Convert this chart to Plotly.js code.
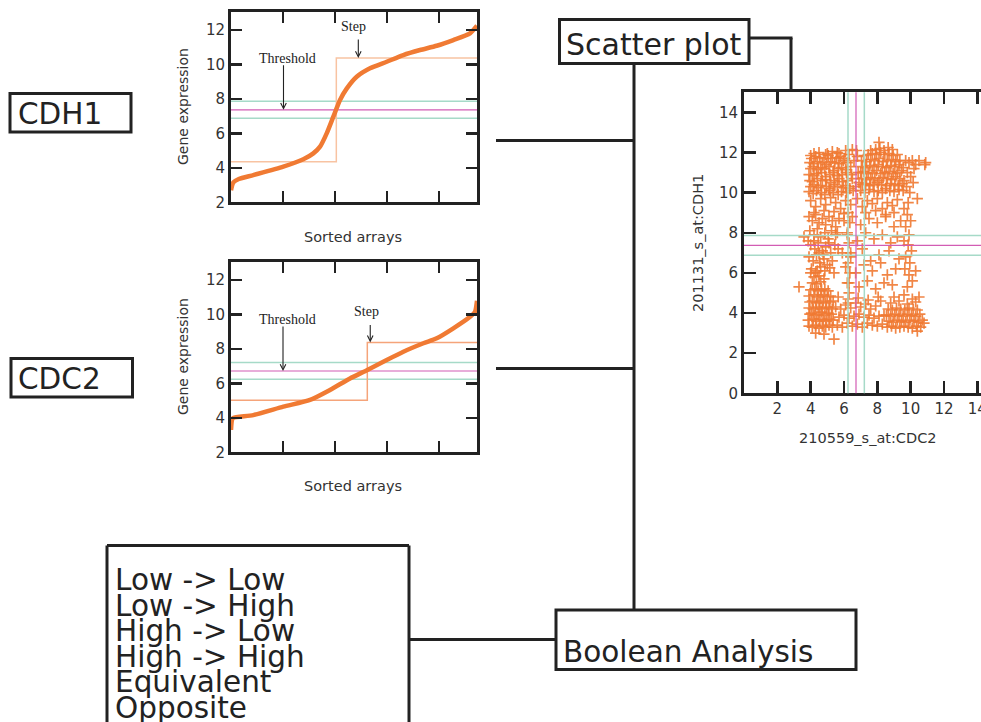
<!DOCTYPE html>
<html><head><meta charset="utf-8">
<script src="https://cdn.plot.ly/plotly-3.0.1.min.js"></script>
<style>html,body{margin:0;padding:0;background:#fff;} #chart{width:981px;height:722px;}</style>
</head><body><div id="chart"></div>
<script>
// ---------------- data ----------------
const arrayCount = 4730;
const cdh1SortedIndex  = [0, 45, 150, 429, 1006, 1391, 1583, 1712, 1840, 1968, 2096, 2224, 2417, 2673, 2994, 3314, 3635, 3955, 4275, 4596, 4730];
const cdh1SortedValues = [2.7, 3.15, 3.35, 3.58, 4.07, 4.5, 4.84, 5.23, 6.0, 6.97, 7.94, 8.6, 9.29, 9.78, 10.16, 10.55, 10.84, 11.09, 11.42, 11.81, 12.25];
const cdc2SortedIndex  = [0, 20, 45, 429, 1006, 1519, 1904, 2288, 2622, 2994, 3314, 3699, 3955, 4275, 4596, 4692, 4730];
const cdc2SortedValues = [3.3, 3.9, 4.0, 4.16, 4.65, 5.04, 5.62, 6.29, 6.78, 7.36, 7.84, 8.33, 8.62, 9.2, 9.87, 10.16, 10.8];
const cdh1Thresholds = [6.88, 7.37, 7.87];
const cdc2Thresholds = [6.24, 6.72, 7.22];
const stepIndex = [2025, 2621];
const stepLow   = [4.36, 5.02];
const stepHigh  = [10.37, 8.38];
const geneNames = ['CDH1', 'CDC2'];
const probeLabels = ['210559_s_at:CDC2', '201131_s_at:CDH1'];
const booleanRelations = ['Low -> Low', 'Low -> High', 'High -> Low', 'High -> High', 'Equivalent', 'Opposite'];
const sortedTicks = [2, 4, 6, 8, 10, 12];
const scatterXTicks = [2, 4, 6, 8, 10, 12, 14];
const scatterYTicks = [0, 2, 4, 6, 8, 10, 12, 14];

// scatter: CDC2 (x) vs CDH1 (y), grouped by region
const topLeftX = [3.9,4.15,4.35,4.65,4.85,5.15,5.35,5.65,5.85,6.15, 4.0,4.2,4.45,4.6,4.95,5.1,5.45,5.6,5.95,6.1, 3.95,4.1,4.4,4.7,4.9,5.2,5.4,5.7,5.9,6.2, 3.9,4.2,4.35,4.65,4.9,5.15,5.35,5.6,5.9,6.15, 4.0,4.15,4.45,4.6,4.85,5.1,5.4,5.65,5.85,6.1, 3.95,4.2,4.4,4.7,4.95,5.2,5.45,5.7,5.95,6.2, 4.05,4.3,4.55,4.8,5.05,5.3,5.55,5.8,6.05];
const topLeftY = [10.05,9.95,10.1,10.0,9.9,10.1,10.0,9.9,10.05,10.0, 10.3,10.4,10.25,10.35,10.3,10.2,10.4,10.3,10.25,10.35, 10.6,10.55,10.7,10.6,10.65,10.5,10.6,10.7,10.55,10.6, 10.9,10.85,10.95,11.0,10.8,10.9,11.0,10.85,10.9,11.0, 11.2,11.3,11.15,11.25,11.2,11.3,11.1,11.2,11.25,11.15, 11.5,11.45,11.55,11.5,11.4,11.55,11.5,11.45,11.6,11.5, 11.7,11.8,11.75,11.7,11.85,11.7,11.75,11.8,11.7];
const topRightX = [7.0,7.25,7.5,7.8,8.05,8.3,8.5,8.75,9.0,9.3,9.55, 7.1,7.3,7.55,7.75,8.0,8.25,8.55,8.8,9.05,9.25,9.5, 7.05,7.35,7.6,7.85,8.1,8.35,8.6,8.85,9.1,9.35,9.6, 7.0,7.2,7.45,7.7,7.95,8.2,8.45,8.7,8.95,9.2,9.45, 7.1,7.3,7.55,7.8,8.05,8.3,8.55,8.8,9.05,9.3,9.55, 7.05,7.35,7.6,7.85,8.1,8.35,8.6,8.85,9.1,9.35, 7.2,7.45,7.7,7.95,8.2,8.45,8.7,8.95,9.2, 7.6,7.9,8.15,8.4,8.65,8.9,8.1];
const topRightY = [10.1,10.0,10.15,10.05,10.1,10.0,10.2,10.1,10.05,10.15,10.1, 10.4,10.45,10.35,10.4,10.5,10.4,10.35,10.45,10.4,10.35,10.45, 10.7,10.65,10.75,10.7,10.6,10.75,10.7,10.65,10.8,10.7,10.6, 11.0,11.05,10.95,11.0,11.1,10.95,11.0,11.05,10.95,11.0,11.1, 11.3,11.25,11.35,11.3,11.4,11.3,11.25,11.35,11.3,11.4,11.25, 11.6,11.55,11.65,11.6,11.7,11.55,11.6,11.65,11.55,11.6, 11.85,11.9,11.95,11.9,12.0,11.9,11.95,11.85,11.9, 12.1,12.15,12.2,12.1,12.25,12.15,12.5];
const topMidX = [6.35,6.5,6.7,6.85,6.4,6.6,6.8,6.45,6.75,6.55,6.9,6.3, 9.7,9.9,10.1,10.3,9.8,10.0,10.2,10.5,9.75,9.95,10.15,10.4,9.85,10.9,10.85, 4.2,4.5,4.9,5.3,5.7,6.1,6.5,5.0,4.0,5.6];
const topMidY = [10.2,10.7,10.3,11.0,11.3,11.6,11.8,10.9,12.1,10.1,10.5,11.9, 11.6,11.5,11.6,11.4,11.0,10.8,11.2,11.6,10.3,10.0,10.5,9.7,9.5,11.5,11.4, 11.95,12.0,11.9,12.05,11.95,12.1,12.15,11.95,11.85,12.0];
const bandX = [4.0,4.3,4.6,4.9,5.2,5.5,5.8,6.1,6.4,6.8,7.1,7.4,7.7,8.0,8.3,8.6,8.9,9.2, 4.2,4.8,5.4,6.0,7.3,7.9,8.5,9.0];
const bandY = [9.6,9.3,9.7,9.4,9.75,9.5,9.2,9.6,9.4,9.7,9.3,9.6,9.45,9.7,9.2,9.5,9.35,9.65, 9.0,9.1,9.05,8.95,9.0,9.1,8.9,9.0];
const leftColX = [3.9,4.1,4.3,4.5,4.7,4.9,5.1,5.3,5.5,5.7, 3.95,4.2,4.4,4.6,4.85,5.05,5.25,5.5, 4.0,4.25,4.45,4.7,4.9,5.2,5.45,5.65, 3.9,4.15,4.35,4.55,4.8,5.0,5.3, 4.05,4.3,4.6,4.85,5.15,5.4, 3.85,4.2,4.5,4.75,5.1,5.6];
const leftColY = [8.8,8.6,8.9,8.5,8.7,8.4,8.8,8.6,8.3,8.7, 8.1,7.9,8.2,7.8,8.0,7.7,8.1,7.9, 7.4,7.2,7.5,7.1,7.3,7.0,7.4,7.2, 6.8,6.6,6.9,6.5,6.7,6.4,6.6, 6.2,6.0,6.3,6.1,6.25,6.0, 7.6,7.6,7.0,6.9,7.5,8.0];
const middleX = [6.0,6.5,7.0,7.5,8.0,8.5,9.0,9.4, 6.2,6.8,7.3,7.8,8.3,8.8,9.2, 5.9,6.4,7.1,7.6,8.1,8.7,9.3, 6.1,6.7,7.2,7.7,8.2,8.6,9.1, 6.3,6.9,7.4,7.9,8.4,8.9, 6.25,6.35,6.2,6.3,6.4,6.25,6.35,6.2,6.3,6.25];
const middleY = [8.6,8.8,8.4,8.7,8.5,8.8,8.3,8.6, 7.9,7.6,8.0,7.7,7.9,7.5,7.8, 7.0,6.8,7.2,6.6,6.9,7.1,6.7, 6.3,6.0,6.4,6.1,6.5,5.9,6.2, 5.5,5.3,5.6,5.2,5.5,5.4, 9.0,8.5,8.0,7.5,7.0,6.5,6.0,5.5,5.0,4.5];
const rightColX = [9.6,9.8,10.0,9.7,9.9,9.6,9.85,10.05,9.7,9.95,9.65,9.9,10.3,10.1,9.8];
const rightColY = [9.2,8.9,8.6,8.3,7.9,7.6,7.4,7.1,6.8,6.5,6.2,5.9,6.1,5.6,5.3];
const bottomLeftX = [3.9,4.1,4.3,4.5,4.7,4.9,5.1,5.3, 3.85,4.15,4.35,4.55,4.75,4.95,5.15,5.35, 3.95,4.05,4.25,4.45,4.65,4.85,5.05,5.25, 3.9,4.15,4.3,4.55,4.7,4.95,5.1,5.3, 3.95,4.1,4.35,4.5,4.75,4.9,5.15,5.35, 3.9,4.2,4.4,4.6,4.8,5.0,5.2, 4.0,4.25,4.45,4.65,4.85,5.05, 4.1,4.35,4.6,4.2,4.5,4.8,4.0,4.4, 4.3,4.8,5.4,3.3,3.6];
const bottomLeftY = [3.35,3.3,3.4,3.25,3.35,3.3,3.4,3.3, 3.65,3.7,3.6,3.7,3.65,3.6,3.7,3.65, 3.95,4.0,3.9,3.95,4.05,3.9,4.0,3.95, 4.25,4.2,4.3,4.25,4.2,4.3,4.25,4.2, 4.55,4.6,4.5,4.55,4.6,4.5,4.55,4.6, 4.85,4.9,4.8,4.85,4.9,4.8,4.85, 5.15,5.2,5.1,5.15,5.2,5.1, 5.5,5.45,5.55,5.8,5.85,5.7,6.0,6.1, 3.0,2.95,2.7,5.3,7.8];
const bottomMidX = [5.6,5.9,6.2,6.5,6.8,7.1,7.4,7.7,8.0,8.3, 5.7,6.0,6.3,6.6,6.9,7.2,7.5,7.8,8.1,8.4, 5.5,5.8,6.1,6.4,6.7,7.0,7.3,7.6,7.9,8.2, 5.65,6.25,6.85,7.45,8.05];
const bottomMidY = [3.4,3.3,3.5,3.35,3.45,3.3,3.5,3.4,3.35,3.45, 3.8,3.9,3.75,3.85,3.95,3.8,3.9,3.75,3.85,3.9, 4.3,4.2,4.4,4.25,4.5,4.3,4.45,4.2,4.35,4.6, 4.8,4.7,4.75,4.65,4.8];
const bottomRightX = [8.6,8.85,9.1,9.35,9.6,9.85,10.1,10.35,10.6, 8.7,8.95,9.2,9.45,9.7,9.95,10.2,10.45,10.7, 8.55,8.8,9.05,9.3,9.55,9.8,10.05,10.3,10.55, 8.65,8.9,9.15,9.4,9.65,9.9,10.15,10.4, 8.8,9.3,9.8,10.3,9.0,9.6,10.1,10.5,10.8,10.4];
const bottomRightY = [3.3,3.35,3.25,3.3,3.35,3.3,3.25,3.35,3.3, 3.6,3.55,3.65,3.6,3.55,3.65,3.6,3.55,3.65, 3.9,3.85,3.95,3.9,3.85,3.95,3.9,3.85,3.95, 4.2,4.15,4.25,4.2,4.15,4.25,4.2,4.15, 4.5,4.6,4.45,4.55,4.8,4.9,4.7,4.8,3.5,3.1];

const scatterX = [].concat(topLeftX, topRightX, topMidX, bandX, leftColX, middleX, rightColX, bottomLeftX, bottomMidX, bottomRightX);
const scatterY = [].concat(topLeftY, topRightY, topMidY, bandY, leftColY, middleY, rightColY, bottomLeftY, bottomMidY, bottomRightY);

// ---------------- styling ----------------
const W = 981, H = 722;
const px = v => v / W;
const py = v => 1 - v / H;
const ORANGE = '#f07a33';
const PINK = '#d25cb4';
const GREEN = '#a6dac8';
const DARK = '#222222';
const FONT = 'DejaVu Sans';
const SERIF = 'Liberation Serif';

function sortedX(anchor) {
  return {domain: [px(231), px(477)], anchor: anchor, range: [0, arrayCount],
    tickvals: [1000, 2000, 3000, 4000], showticklabels: false,
    ticks: 'inside', ticklen: 11, tickwidth: 2.5, tickcolor: DARK,
    showline: true, linewidth: 3, linecolor: DARK, mirror: 'ticks',
    showgrid: false, zeroline: false};
}
function sortedY(anchor, top, bottom) {
  return {domain: [py(bottom), py(top)], anchor: anchor, range: [2, 13.03],
    tickvals: sortedTicks, ticks: 'inside', ticklen: 11, tickwidth: 2.5, tickcolor: DARK,
    showline: true, linewidth: 3, linecolor: DARK, mirror: 'ticks',
    showgrid: false, zeroline: false, tickfont: {family: FONT, size: 15, color: '#333'}};
}

function stepTrace(i, xa, ya, color) {
  return {x: [0, stepIndex[i], stepIndex[i], arrayCount], y: [stepLow[i], stepLow[i], stepHigh[i], stepHigh[i]],
    xaxis: xa, yaxis: ya, mode: 'lines', line: {color: color, width: 1.5}, hoverinfo: 'skip'};
}

const traces = [
  stepTrace(0, 'x', 'y', '#f8c3a2'),
  {x: cdh1SortedIndex, y: cdh1SortedValues, xaxis: 'x', yaxis: 'y', mode: 'lines',
   line: {color: ORANGE, width: 4.5, shape: 'spline', smoothing: 0.6}, name: geneNames[0]},
  stepTrace(1, 'x2', 'y2', '#f5a47a'),
  {x: cdc2SortedIndex, y: cdc2SortedValues, xaxis: 'x2', yaxis: 'y2', mode: 'lines',
   line: {color: ORANGE, width: 4.5, shape: 'spline', smoothing: 0.6}, name: geneNames[1]},
  {x: scatterX, y: scatterY, xaxis: 'x3', yaxis: 'y3', mode: 'markers', name: 'arrays',
   marker: {symbol: 'cross-thin', size: 8, color: ORANGE, opacity: 0.9, line: {color: ORANGE, width: 1.7}}}
];

const shapes = [];
function hLines(vals, xref, yref, layer) {
  vals.forEach((v, k) => shapes.push({type: 'line', xref: xref, yref: yref, x0: 0, x1: 1, y0: v, y1: v, layer: layer,
    line: {color: k === 1 ? PINK : GREEN, width: k === 1 ? 1.2 : 1.5}}));
}
function vLines(vals, xref, yref, layer) {
  vals.forEach((v, k) => shapes.push({type: 'line', xref: xref, yref: yref, y0: 0, y1: 1, x0: v, x1: v, layer: layer,
    line: {color: k === 1 ? PINK : GREEN, width: k === 1 ? 1.2 : 1.5}}));
}
hLines(cdh1Thresholds, 'x domain', 'y', 'below');
hLines(cdc2Thresholds, 'x2 domain', 'y2', 'below');
hLines(cdh1Thresholds, 'x3 domain', 'y3', 'above');
vLines(cdc2Thresholds, 'x3', 'y3 domain', 'above');

function box(x0, x1, y0, y1) {
  shapes.push({type: 'rect', xref: 'paper', yref: 'paper', x0: px(x0), x1: px(x1), y0: py(y1), y1: py(y0),
    line: {color: DARK, width: 3}, fillcolor: 'rgba(0,0,0,0)'});
}
function seg(x0, y0, x1, y1) {
  shapes.push({type: 'line', xref: 'paper', yref: 'paper', x0: px(x0), x1: px(x1), y0: py(y0), y1: py(y1),
    line: {color: DARK, width: 3}});
}
box(10, 131, 93.5, 132);
box(11, 132.5, 358.5, 397);
box(559.5, 749, 19.5, 63.5);
box(556, 856, 610, 669.5);
seg(107, 726, 107, 545.5); seg(107, 545.5, 409, 545.5); seg(409, 545.5, 409, 726);
seg(496, 140.5, 634, 140.5);
seg(496, 368.5, 634, 368.5);
seg(634, 63.5, 634, 610);
seg(749, 38, 792.5, 38);
seg(791, 38, 791, 92);
seg(409, 639.5, 556, 639.5);

const annotations = [];
function label(text, x, y, size, opts) {
  annotations.push(Object.assign({text: text, xref: 'paper', yref: 'paper', x: px(x), y: py(y), showarrow: false,
    xanchor: 'left', yanchor: 'middle', borderpad: 0, font: {family: FONT, size: size, color: DARK}}, opts || {}));
}
label(geneNames[0], 17, 114.5, 29.5);
label(geneNames[1], 17, 379, 29.5);
label('Scatter plot', 565, 45, 30);
label('Boolean Analysis', 562, 652, 29.5);
booleanRelations.forEach((t, i) => label(t, 114, 580 + i * 25.5, 29.5));

// axis titles
label('Gene expression', 183, 107, 14, {xanchor: 'center', textangle: -90, font: {family: FONT, size: 14, color: '#333'}});
label('Gene expression', 183, 357, 14, {xanchor: 'center', textangle: -90, font: {family: FONT, size: 14, color: '#333'}});
label('Sorted arrays', 353, 237, 14, {xanchor: 'center', font: {family: FONT, size: 14.5, color: '#333'}});
label('Sorted arrays', 353, 486, 14, {xanchor: 'center', font: {family: FONT, size: 14.5, color: '#333'}});
label(probeLabels[0], 868, 438, 14, {xanchor: 'center', font: {family: FONT, size: 14.5, color: '#333'}});
label(probeLabels[1], 698, 243, 14, {xanchor: 'center', textangle: -90, font: {family: FONT, size: 14.5, color: '#333'}});

// Threshold / Step callouts
label('Threshold', 287, 58, 14, {xanchor: 'center', font: {family: SERIF, size: 14, color: DARK}});
label('Step', 353, 27, 14, {xanchor: 'center', font: {family: SERIF, size: 14, color: DARK}});
label('Threshold', 287, 319.5, 14, {xanchor: 'center', font: {family: SERIF, size: 14, color: DARK}});
label('Step', 366, 311, 14, {xanchor: 'center', font: {family: SERIF, size: 14, color: DARK}});
function arrow(xref, yref, xfrac, yval, ay) {
  annotations.push({text: '', xref: xref, yref: yref, x: xfrac, y: yval, showarrow: true, ax: 0, ay: ay,
    arrowhead: 5, arrowsize: 1, arrowwidth: 1.1, arrowcolor: DARK});
}
arrow('x domain', 'y', 0.2134, cdh1Thresholds[1], -46);
arrow('x domain', 'y', 0.5175, stepHigh[0], -20);
arrow('x2 domain', 'y2', 0.2114, cdc2Thresholds[1], -46);
arrow('x2 domain', 'y2', 0.566, stepHigh[1], -19);

const layout = {
  width: W, height: H, margin: {l: 0, r: 0, t: 0, b: 0},
  paper_bgcolor: '#ffffff', plot_bgcolor: '#ffffff', showlegend: false,
  font: {family: FONT, color: '#333'},
  xaxis: sortedX('y'),
  yaxis: sortedY('x', 12.3, 202.3),
  xaxis2: sortedX('y2'),
  yaxis2: sortedY('x2', 262.3, 452.3),
  xaxis3: {domain: [px(744), 1], anchor: 'y3', range: [0, 14.22], tickvals: scatterXTicks,
    ticks: 'inside', ticklen: 12, tickwidth: 2.5, tickcolor: DARK, ticklabeloverflow: 'allow',
    showline: true, linewidth: 3, linecolor: DARK, mirror: 'ticks',
    showgrid: false, zeroline: false, tickfont: {family: FONT, size: 15, color: '#333'}},
  yaxis3: {domain: [py(393.3), py(92.3)], anchor: 'x3', range: [0, 15], tickvals: scatterYTicks,
    ticks: 'inside', ticklen: 12, tickwidth: 2.5, tickcolor: DARK,
    showline: true, linewidth: 3, linecolor: DARK, mirror: false,
    showgrid: false, zeroline: false, tickfont: {family: FONT, size: 15, color: '#333'}},
  yaxis4: {overlaying: 'y3', anchor: 'x3', side: 'right', range: [0, 15], tickvals: scatterYTicks.slice(1),
    ticks: 'inside', ticklen: 3, tickwidth: 2, tickcolor: DARK, showticklabels: false,
    showline: false, showgrid: false, zeroline: false},
  shapes: shapes,
  annotations: annotations
};

Plotly.newPlot('chart', traces, layout, {staticPlot: true, displayModeBar: false});
</script>
</body></html>
